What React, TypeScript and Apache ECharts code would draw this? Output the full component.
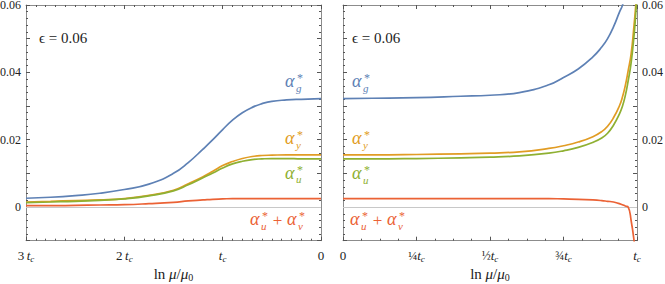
import React, { useEffect, useRef } from "react";
import * as echarts from "echarts";

// ---------- data ----------
// left panel: distance t (units of t_c) from the end, axis runs 3t_c -> 0
const leftT = [3, 2.75, 2.5, 2.25, 2.0, 1.75, 1.5, 1.35, 1.2, 1.1, 1.0, 0.9, 0.8, 0.7, 0.6, 0.5, 0.35, 0.2, 0];
const leftG = [0.0026, 0.0029, 0.0034, 0.0041, 0.0052, 0.0068, 0.0100, 0.0132, 0.0172, 0.0200, 0.0230, 0.0258, 0.0280, 0.0296, 0.0307, 0.0314, 0.0318, 0.0320, 0.0322];
const leftY = [0.0015, 0.0017, 0.0019, 0.0021, 0.0025, 0.0035, 0.0050, 0.0069, 0.0090, 0.0106, 0.0123, 0.0135, 0.0144, 0.0150, 0.0153, 0.0154, 0.0155, 0.0155, 0.0155];
const leftU = [0.0013, 0.0015, 0.0017, 0.0020, 0.0024, 0.0033, 0.0048, 0.0066, 0.0087, 0.0101, 0.0116, 0.0128, 0.0136, 0.0141, 0.0143, 0.0144, 0.0144, 0.0143, 0.0143];
const leftUV = [0.0004, 0.0004, 0.0005, 0.0006, 0.0007, 0.0010, 0.0014, 0.0018, 0.0021, 0.0023, 0.0024, 0.0025, 0.0025, 0.0025, 0.0025, 0.0025, 0.0025, 0.0025, 0.0025];

// right panel: t from 0 to t_c
const rightT = [0, 0.1, 0.25, 0.4, 0.5, 0.6, 0.7, 0.75, 0.8, 0.85, 0.88, 0.9, 0.92, 0.94, 0.95, 0.96, 0.97, 0.98, 0.99, 0.995, 1.0];
const rightG = [0.0322, 0.0323, 0.0325, 0.0329, 0.0332, 0.0340, 0.0363, 0.0385, 0.0410, 0.0446, 0.0475, 0.0500, 0.0535, 0.0578, 0.0598, 0.0628, 0.0660, null, null, null, null];
const rightY = [0.0155, 0.0155, 0.0156, 0.0158, 0.0160, 0.0164, 0.0174, 0.0182, 0.0193, 0.0209, 0.0224, 0.0240, 0.0265, 0.0300, 0.0325, 0.0360, 0.0405, 0.0455, 0.0540, 0.0590, 0.0650];
const rightU = [0.0143, 0.0143, 0.0144, 0.0146, 0.0148, 0.0152, 0.0160, 0.0167, 0.0177, 0.0192, 0.0205, 0.0219, 0.0243, 0.0276, 0.0298, 0.0330, 0.0375, 0.0428, 0.0510, 0.0565, 0.0630];
const rightUV = [0.0025, 0.0025, 0.0025, 0.0025, 0.0025, 0.0025, 0.0025, 0.0024, 0.0023, 0.0021, 0.0019, 0.0017, 0.0015, 0.0010, 0.0007, 0.0003, 0.0000, -0.0040, -0.0100, -0.0150, null];

const yLabelTicks = [0, 0.02, 0.04, 0.06];
const epsilonText = "ϵ = 0.06";

// ---------- styles ----------
const serif = "Liberation Serif";
const C_G = "#5E81B5";
const C_Y = "#E19C24";
const C_U = "#8FB032";
const C_UV = "#EB6235";
const AXIS = "#8c8c8c";
const TICK = "#555";
const TXT = "#222";

const zip = (xs: number[], ys: (number | null)[]) => xs.map((x, i) => [x, ys[i]]);

const richBase = {
  n: { fontFamily: serif, fontSize: 13, color: TXT, lineHeight: 16, verticalAlign: "middle" },
  t: { fontFamily: serif, fontStyle: "italic", fontSize: 13, color: TXT, lineHeight: 16, verticalAlign: "middle" },
  c: { fontFamily: serif, fontStyle: "italic", fontSize: 9, color: TXT, lineHeight: 8, verticalAlign: "bottom" },
  f: { fontFamily: serif, fontSize: 12, color: TXT, lineHeight: 16, verticalAlign: "middle" },
};

const nameRich = {
  n: { fontFamily: serif, fontSize: 15, color: TXT, lineHeight: 18, verticalAlign: "middle" },
  m: { fontFamily: serif, fontStyle: "italic", fontSize: 15, color: TXT, lineHeight: 18, verticalAlign: "middle" },
  s: { fontFamily: serif, fontSize: 10, color: TXT, lineHeight: 9, verticalAlign: "bottom" },
};
const axisName = "{n|ln }{m|μ}{n|/}{m|μ}{s|0}";

function yFmt(v: number) {
  const k = Math.round(v * 100);
  if (!yLabelTicks.some((t) => Math.round(t * 100) === k)) return "";
  return k === 0 ? "0" : (k / 100).toFixed(2);
}

function leftXFmt(v: number) {
  const k = Math.round(v);
  if (k === 0) return "{n|0}";
  if (k === 1) return "{t|t}{c|c}";
  return `{n|${k}\u2009}{t|t}{c|c}`;
}

function rightXFmt(v: number) {
  const k = Math.round(v * 4);
  if (k === 0) return "{n|0}";
  if (k === 4) return "{t|t}{c|c}";
  const fr = k === 1 ? "¼" : k === 2 ? "½" : "¾";
  return `{f|${fr}}{t|t}{c|c}`;
}

function xAxisBase(grid: number, pos: "bottom" | "top", min: number, max: number, interval: number, split: number, inverse: boolean, fmt: ((v: number) => string) | null) {
  return {
    type: "value",
    gridIndex: grid,
    position: pos,
    min,
    max,
    interval,
    inverse,
    axisLine: { show: true, onZero: false, lineStyle: { color: AXIS, width: 1 } },
    axisTick: { show: true, inside: true, length: 4, lineStyle: { color: TICK } },
    minorTick: { show: true, splitNumber: split, length: 2, lineStyle: { color: TICK } },
    splitLine: { show: false },
    minorSplitLine: { show: false },
    axisLabel: fmt
      ? { show: true, margin: 7, formatter: fmt, rich: richBase, showMinLabel: true, showMaxLabel: true }
      : { show: false },
    name: pos === "bottom" ? axisName : "",
    nameLocation: "middle",
    nameGap: 24,
    nameMoveOverlap: false,
    nameTextStyle: { rich: nameRich },
  };
}

function yAxisBase(grid: number, pos: "left" | "right", labels: boolean) {
  return {
    type: "value",
    gridIndex: grid,
    position: pos,
    min: -0.01,
    max: 0.06,
    interval: 0.01,
    axisLine: { show: true, onZero: false, lineStyle: { color: AXIS, width: 1 } },
    axisTick: { show: true, inside: true, length: 4, lineStyle: { color: TICK } },
    minorTick: { show: true, splitNumber: 5, length: 2, lineStyle: { color: TICK } },
    splitLine: { show: false },
    axisLabel: labels
      ? { show: true, margin: 5, formatter: yFmt, fontFamily: serif, fontSize: 12, color: TXT, showMinLabel: true, showMaxLabel: true }
      : { show: false },
  };
}

function lineSeries(xi: number, yi: number, data: any[], color: string, zero = false) {
  const s: any = {
    type: "line",
    xAxisIndex: xi,
    yAxisIndex: yi,
    data,
    showSymbol: false,
    symbol: "none",
    smooth: 0.5,
    clip: true,
    lineStyle: { color, width: 1.7 },
    z: 3,
  };
  if (zero) {
    s.markLine = {
      silent: true,
      symbol: ["none", "none"],
      label: { show: false },
      lineStyle: { color: "#c8c8c8", width: 1, type: "solid" },
      data: [{ yAxis: 0 }],
      z: 1,
    };
  }
  return s;
}

function alphaSym(x: number, y: number, sub: string, color: string): any[] {
  return [
    { type: "text", x, y: y - 1.5, style: { text: "α", fontFamily: serif, fontStyle: "italic", fontSize: 18, fill: color, textAlign: "left", textVerticalAlign: "middle" } },
    { type: "text", x: x + 12, y: y - 4.5, style: { text: "*", fontFamily: serif, fontSize: 12, fill: color, textAlign: "left", textVerticalAlign: "middle" } },
    { type: "text", x: x + 11, y: y + 5, style: { text: sub, fontFamily: serif, fontStyle: "italic", fontSize: 11, fill: color, textAlign: "left", textVerticalAlign: "middle" } },
  ];
}

function sumLabel(x: number, y: number): any[] {
  return [
    ...alphaSym(x, y, "u", C_UV),
    { type: "text", x: x + 27.5, y, style: { text: "+", fontFamily: serif, fontSize: 17, fill: C_UV, textAlign: "center", textVerticalAlign: "middle" } },
    ...alphaSym(x + 37, y, "v", C_UV),
  ];
}

export default function App() {
  const ref = useRef<HTMLDivElement>(null);
  useEffect(() => {
    if (!ref.current) return;
    const chart = echarts.init(ref.current, undefined, { renderer: "svg" });
    const option: any = {
      animation: false,
      backgroundColor: "#ffffff",
      grid: [
        { left: 26, top: 5, width: 295, height: 235.7, containLabel: false, outerBoundsMode: "none" },
        { left: 343, top: 5, width: 294, height: 235.7, containLabel: false, outerBoundsMode: "none" },
      ],
      xAxis: [
        xAxisBase(0, "bottom", 0, 3, 1, 10, true, leftXFmt),
        xAxisBase(0, "top", 0, 3, 1, 10, true, null),
        xAxisBase(1, "bottom", 0, 1, 0.25, 4, false, rightXFmt),
        xAxisBase(1, "top", 0, 1, 0.25, 4, false, null),
      ],
      yAxis: [
        yAxisBase(0, "left", true),
        yAxisBase(0, "right", false),
        yAxisBase(1, "left", false),
        yAxisBase(1, "right", true),
      ],
      series: [
        lineSeries(0, 0, zip(leftT, leftUV), C_UV, true),
        lineSeries(0, 0, zip(leftT, leftG), C_G),
        lineSeries(0, 0, zip(leftT, leftY), C_Y),
        lineSeries(0, 0, zip(leftT, leftU), C_U),
        lineSeries(2, 3, zip(rightT, rightUV), C_UV, true),
        lineSeries(2, 3, zip(rightT, rightG), C_G),
        lineSeries(2, 3, zip(rightT, rightY), C_Y),
        lineSeries(2, 3, zip(rightT, rightU), C_U),
      ],
      graphic: [
        { type: "text", x: 39, y: 38, style: { text: epsilonText, fontFamily: serif, fontSize: 15, fill: TXT, textAlign: "left", textVerticalAlign: "middle" } },
        { type: "text", x: 352, y: 38, style: { text: epsilonText, fontFamily: serif, fontSize: 15, fill: TXT, textAlign: "left", textVerticalAlign: "middle" } },
        ...alphaSym(285, 82.5, "g", C_G),
        ...alphaSym(285, 139.5, "y", C_Y),
        ...alphaSym(285, 174, "u", C_U),
        ...sumLabel(250, 220.5),
        ...alphaSym(352, 82.5, "g", C_G),
        ...alphaSym(352, 139.5, "y", C_Y),
        ...alphaSym(352, 174.5, "u", C_U),
        ...sumLabel(350, 220.5),
      ],
    };
    chart.setOption(option);
    return () => chart.dispose();
  }, []);
  return (
    <div
      ref={ref}
      style={{ position: "fixed", left: 0, top: 0, width: 665, height: 284, background: "#fff" }}
    />
  );
}
